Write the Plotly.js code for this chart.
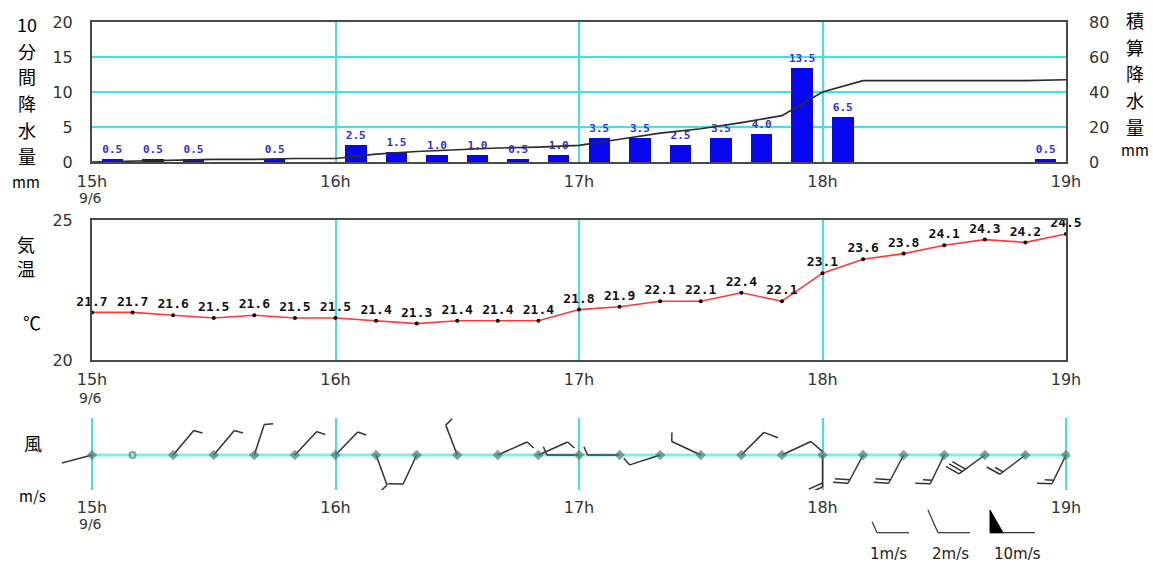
<!DOCTYPE html>
<html><head><meta charset="utf-8">
<script src="https://cdn.plot.ly/plotly-3.0.1.min.js"></script>
<style>html,body{margin:0;padding:0;background:#fff}#chart{width:1153px;height:562px}</style>
</head><body><div id="chart"></div>
<script>
// ---------- data ----------
const hourTicks = ["15:00","16:00","17:00","18:00","19:00"];
const hourLabels = ["15h","16h","17h","18h","19h"];
const dateLabel = "9/6";

// 10-minute precipitation (mm), period end times
const precipTimes = ["15:10","15:20","15:30","15:40","15:50","16:00","16:10","16:20","16:30","16:40","16:50","17:00",
                     "17:10","17:20","17:30","17:40","17:50","18:00","18:10","18:20","18:30","18:40","18:50","19:00"];
const precip10 = [0.5,0.5,0.5,0,0.5,0,2.5,1.5,1.0,1.0,0.5,1.0,3.5,3.5,2.5,3.5,4.0,13.5,6.5,0,0,0,0,0.5];

// temperature (°C) and wind, every 10 minutes
const obsTimes = ["15:00","15:10","15:20","15:30","15:40","15:50","16:00","16:10","16:20","16:30","16:40","16:50",
                  "17:00","17:10","17:20","17:30","17:40","17:50","18:00","18:10","18:20","18:30","18:40","18:50","19:00"];
const temperature = [21.7,21.7,21.6,21.5,21.6,21.5,21.5,21.4,21.3,21.4,21.4,21.4,
                     21.8,21.9,22.1,22.1,22.4,22.1,23.1,23.6,23.8,24.1,24.3,24.2,24.5];
// wind direction (degrees, where it blows from) and speed (m/s); speed 0 = calm
const windDir = [255,0,40,40,18,43,44,160,205,339,66,66,270,270,252,295,45,65,180,208,208,206,234,233,206];
const windSpeed = [1,0,1,1,1,1,1,1,2,1,1,1,1,1,1,1,2,2,4,4,4,3,6,3,3];

const legendSpeeds = [1,2,10];
const legendLabels = ["1m/s","2m/s","10m/s"];

// ---------- helpers ----------
const W = 1153, H = 562;
const toMin = t => { const [h,m] = t.split(":").map(Number); return (h-15)*60 + m; };
const px = p => p / W;
const py = p => 1 - p / H;
const plotL = 92, plotR = 1066;
const minPerPx = 240 / (plotR - plotL);

const hourVals = hourTicks.map(toMin);
const precipX = precipTimes.map(t => toMin(t) - 5);
let acc = 0;
const cumX = [0].concat(precipTimes.map(toMin));
const cumY = [0].concat(precip10.map(v => (acc += v)));
const obsX = obsTimes.map(toMin);

// barb builder in pixel units
function buildBarbs(stations, opt) {
  const seg = {x:[], y:[]}, tri = {x:[], y:[]};
  stations.forEach(s => {
    if (!s.speed) return;
    const b = s.dir * Math.PI / 180;
    const ux = Math.sin(b), uy = Math.cos(b);
    let pennants = Math.floor(s.speed / 10);
    let rest = s.speed % 10;
    let longs = Math.floor(rest / 2), shorts = rest % 2;
    const L = opt.staff + (pennants ? opt.penBase : 0);
    seg.x.push(opt.cx(s.x, 0), opt.cx(s.x, L*ux), null);
    seg.y.push(opt.cy(s.y, 0), opt.cy(s.y, L*uy), null);
    let d = L;
    const fb = (s.dir + opt.featherRot) * Math.PI / 180;
    const fx = Math.sin(fb), fy = Math.cos(fb);
    const pb = (s.dir + 90) * Math.PI / 180;
    const qx = Math.sin(pb), qy = Math.cos(pb);
    for (let k = 0; k < pennants; k++) {
      const ax = d*ux, ay = d*uy;
      const tx = ax + opt.penH*qx, ty = ay + opt.penH*qy;
      const bx = (d-opt.penBase)*ux, by = (d-opt.penBase)*uy;
      tri.x.push(opt.cx(s.x,ax), opt.cx(s.x,tx), opt.cx(s.x,bx), opt.cx(s.x,ax), null);
      tri.y.push(opt.cy(s.y,ay), opt.cy(s.y,ty), opt.cy(s.y,by), opt.cy(s.y,ay), null);
      d -= opt.penBase + opt.gap;
    }
    const ticks = [];
    for (let k = 0; k < longs; k++) ticks.push(opt.long);
    for (let k = 0; k < shorts; k++) ticks.push(opt.short);
    ticks.forEach(len => {
      const ax = d*ux, ay = d*uy;
      seg.x.push(opt.cx(s.x,ax), opt.cx(s.x, ax + len*fx), null);
      seg.y.push(opt.cy(s.y,ay), opt.cy(s.y, ay + len*fy), null);
      d -= opt.gap;
    });
  });
  return {seg, tri};
}

const stations = obsX.map((x,i) => ({x, y:0, dir:windDir[i], speed:windSpeed[i]}));
const windBarbs = buildBarbs(stations, {
  staff: 32, long: 15, short: 9, gap: 4, penBase: 10, penH: 16, featherRot: 66,
  cx: (x0, dpx) => x0 + dpx*minPerPx,
  cy: (y0, dpx) => y0 + dpx
});
const legendAnchorX = [909, 970, 1035];
const legendStations = legendSpeeds.map((s,i) => ({x: legendAnchorX[i], y: 532.7, dir: 270, speed: s}));
const legendBarbs = buildBarbs(legendStations, {
  staff: 32, long: 25, short: 12, gap: 5, penBase: 13, penH: 22.7, featherRot: 66,
  cx: (x0, dpx) => x0 + dpx,
  cy: (y0, dpx) => y0 - dpx
});

const cyan = "#3ee3e3", border = "#4a4a4a", tickCol = "#333";
const tickFont = {family: "DejaVu Sans", size: 16, color: tickCol};

const traces = [
  { type:"bar", x: precipX, y: precip10, xaxis:"x", yaxis:"y", width: 5.3,
    marker:{color:"#0808f0", line:{width:0}},
    text: precip10.map(v => v > 0 ? v.toFixed(1) : ""), textposition:"outside", constraintext:"none",
    cliponaxis:false,
    textfont:{family:"DejaVu Sans Mono", size:11, color:"#2f2fe0", weight:"bold"}, hoverinfo:"skip" },
  { type:"scatter", mode:"lines", x: cumX, y: cumY, xaxis:"x", yaxis:"y2",
    line:{color:"#2b2b2b", width:1.6}, hoverinfo:"skip" },
  { type:"scatter", mode:"lines+markers+text", x: obsX, y: temperature, xaxis:"x2", yaxis:"y3",
    line:{color:"#ff3a3a", width:1.6}, marker:{color:"#000", size:4},
    text: temperature.map(v => v.toFixed(1)), textposition:"top center", cliponaxis:false,
    textfont:{family:"DejaVu Sans Mono", size:13, color:"#111", weight:"bold"}, hoverinfo:"skip" },
  { type:"scatter", mode:"lines", x:[obsX[0], obsX[obsX.length-1]], y:[0,0], xaxis:"x3", yaxis:"y4",
    line:{color:"#7feeee", width:3}, hoverinfo:"skip" },
  { type:"scatter", mode:"lines", x: windBarbs.seg.x, y: windBarbs.seg.y, xaxis:"x3", yaxis:"y4",
    line:{color:"#333", width:1.5}, hoverinfo:"skip" },
  { type:"scatter", mode:"markers", x: obsX, y: obsX.map(() => 0), xaxis:"x3", yaxis:"y4",
    marker:{symbol: windSpeed.map(s => s ? "diamond" : "circle-open"), size: windSpeed.map(s => s ? 8 : 6),
            color:"#4c7d70", line:{color:"#4c7d70", width: windSpeed.map(s => s ? 0 : 2)}}, hoverinfo:"skip" },
  { type:"scatter", mode:"lines", x: legendBarbs.seg.x, y: legendBarbs.seg.y, xaxis:"x4", yaxis:"y5",
    line:{color:"#333", width:1.2}, hoverinfo:"skip" },
  { type:"scatter", mode:"lines", x: legendBarbs.tri.x, y: legendBarbs.tri.y, xaxis:"x4", yaxis:"y5",
    fill:"toself", fillcolor:"#000", line:{color:"#000", width:1}, hoverinfo:"skip" }
];

const baseX = {
  domain:[px(plotL), px(plotR)], range:[0,240], tickvals: hourVals, ticktext: hourLabels,
  showgrid:true, gridcolor:cyan, gridwidth:2, zeroline:false,
  showline:true, mirror:true, linecolor:border, linewidth:2, ticks:"", tickfont:tickFont,
  ticklabelstandoff:4, fixedrange:true
};
const windL = 62, windR = 1070;
const layout = {
  width: W, height: H, margin:{l:0,r:0,t:0,b:0}, autosize:false,
  paper_bgcolor:"#fff", plot_bgcolor:"rgba(0,0,0,0)", showlegend:false, bargap:0,
  xaxis: Object.assign({}, baseX, {anchor:"y"}),
  yaxis: { domain:[py(162), py(22)], range:[0,20], tickvals:[0,5,10,15,20], showgrid:true, gridcolor:cyan, gridwidth:2,
           zeroline:false, showline:true, mirror:true, linecolor:border, linewidth:2, ticks:"", tickfont:tickFont,
           ticklabelstandoff:14, anchor:"x", fixedrange:true },
  yaxis2:{ overlaying:"y", side:"right", anchor:"x", range:[0,80], tickvals:[0,20,40,60,80], showgrid:false,
           zeroline:false, showline:false, ticks:"", tickfont:tickFont, ticklabelstandoff:22, fixedrange:true },
  xaxis2: Object.assign({}, baseX, {anchor:"y3"}),
  yaxis3:{ domain:[py(360), py(220)], range:[20,25], tickvals:[20,25], showgrid:false, zeroline:false,
           showline:true, mirror:true, linecolor:border, linewidth:2, ticks:"", tickfont:tickFont,
           ticklabelstandoff:14, anchor:"x2", fixedrange:true },
  xaxis3:{ domain:[px(windL), px(windR)], range:[-(plotL-windL)*minPerPx, 240 + (windR-plotR)*minPerPx],
           tickvals: hourVals, ticktext: hourLabels, showgrid:true, gridcolor:cyan, gridwidth:2, zeroline:false,
           showline:false, ticks:"", tickfont:tickFont, ticklabelstandoff:6, anchor:"y4", fixedrange:true },
  yaxis4:{ domain:[py(490), py(418)], range:[-35,37], visible:false, anchor:"x3", fixedrange:true },
  xaxis4:{ domain:[0,1], range:[0,W], visible:false, anchor:"y5", fixedrange:true },
  yaxis5:{ domain:[0,1], range:[H,0], visible:false, anchor:"x4", fixedrange:true },
  annotations: []
};

const lab = (text, x, y, size, extra) => layout.annotations.push(Object.assign({
  text, x: px(x), y: py(y), xref:"paper", yref:"paper", showarrow:false, xanchor:"center", yanchor:"middle",
  font:{family:"Noto Sans CJK JP", size: size || 18, color:"#000"}
}, extra || {}));

[["10",24],["分",51],["間",76],["降",103],["水",130],["量",156]].forEach(([t,y]) => lab(t, 27, y, 18));
lab("mm", 26, 182, 15);
[["積",20],["算",47],["降",73],["水",100],["量",127]].forEach(([t,y]) => lab(t, 1135, y, 18));
lab("mm", 1135, 150, 15);
lab("気", 26, 244, 18); lab("温", 26, 268, 18); lab("℃", 32, 322, 18);
lab("風", 33, 443, 18); lab("m/s", 32, 495, 15);
[198, 398, 524].forEach(y => lab(dateLabel, 90, y, 14, {font:{family:"DejaVu Sans", size:14, color:tickCol}}));
legendLabels.forEach((t,i) => lab(t, [888,950,1017][i], 554, 15, {font:{family:"DejaVu Sans", size:15, color:"#222"}}));

Plotly.newPlot("chart", traces, layout, {staticPlot:true, displayModeBar:false});
</script></body></html>
